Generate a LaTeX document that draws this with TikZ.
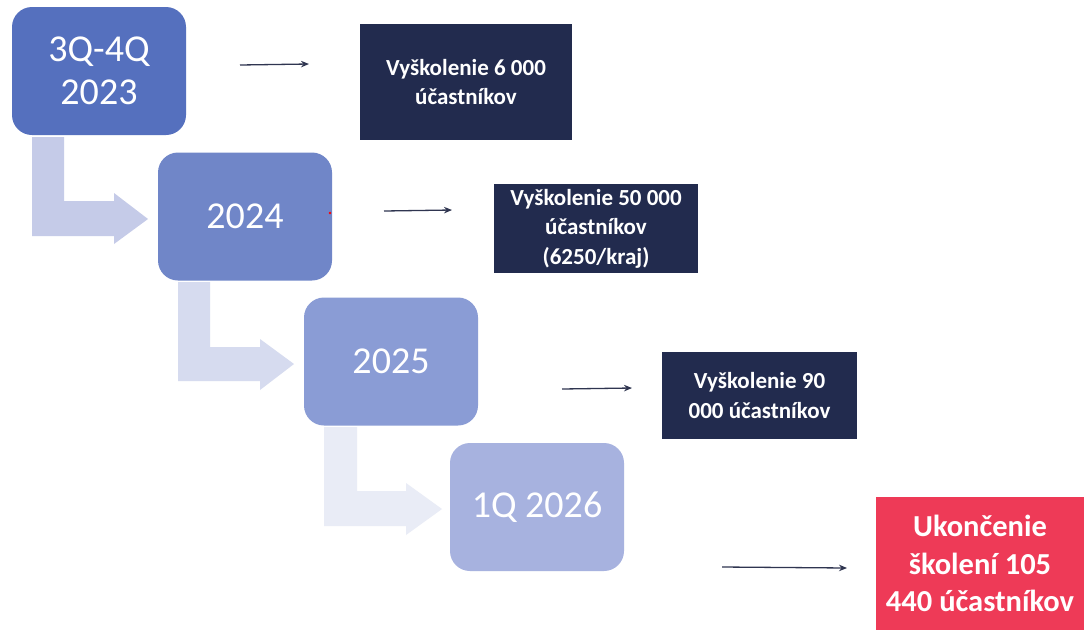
\documentclass[tikz,border=0pt]{standalone}
\usepackage{fontspec}
\setmainfont{Carlito}
\usetikzlibrary{arrows.meta}
\definecolor{yA}{HTML}{5570BE}
\definecolor{yB}{HTML}{7086C8}
\definecolor{yC}{HTML}{8A9CD5}
\definecolor{yD}{HTML}{A7B2DF}
\definecolor{bA}{HTML}{C5CBE8}
\definecolor{bB}{HTML}{D6DBEF}
\definecolor{bC}{HTML}{E9ECF6}
\definecolor{navy}{HTML}{222B4E}
\definecolor{redbox}{HTML}{EE3A57}
\definecolor{arr}{HTML}{2F3550}
\tikzset{
  yearbox/.style={rounded corners=20pt, minimum width=174pt, minimum height=128pt, inner sep=0pt,
    text=white, font=\fontsize{38}{43}\selectfont, align=center},
  infobox/.style={fill=navy, inner sep=0pt, text=white, align=center,
    font=\bfseries\fontsize{23}{29.5}\selectfont},
  endbox/.style={fill=redbox, inner sep=0pt, text=white, align=center,
    font=\bfseries\fontsize{30.5}{37.5}\selectfont},
  smallarrow/.style={draw=arr, line width=1.3pt, -{Stealth[length=8pt,width=6.5pt]}},
}
\begin{document}
\begin{tikzpicture}[x=1pt,y=-1pt]
\useasboundingbox (0,0) rectangle (1084,630);
\fill[white] (0,0) rectangle (1084,630);
% bent arrows
\fill[bA] (32,137) -- (64,137) -- (64,201) -- (114,201) -- (114,193) -- (148,219) -- (114,244) -- (114,236) -- (32,236) -- cycle;
\fill[bB] (178,282) -- (210,282) -- (210,347) -- (260,347) -- (260,339) -- (294,364) -- (260,390) -- (260,381) -- (178,381) -- cycle;
\fill[bC] (324,427) -- (357,427) -- (357,491) -- (406,491) -- (406,483) -- (442,509) -- (406,535) -- (406,526) -- (324,526) -- cycle;
% year boxes
\node[yearbox, fill=yA] (y1) at (99,71) {3Q-4Q\\2023};
\node[yearbox, fill=yB] (y2) at (245,216.5) {2024};
\node[yearbox, fill=yC] (y3) at (391,361.5) {2025};
\node[yearbox, fill=yD] (y4) at (537,507) {1Q 2026};
\fill[red] (330,213) circle (1.4pt);
% info boxes
\node[infobox, minimum width=212pt, minimum height=116pt] (i1) at (466,82) {Vyškolenie 6 000\\účastníkov};
\node[infobox, minimum width=204pt, minimum height=89pt] (i2) at (596,228.5) {Vyškolenie 50 000\\účastníkov\\(6250/kraj)};
\node[infobox, minimum width=195pt, minimum height=87pt] (i3) at (759.5,395.5) {Vyškolenie 90\\000 účastníkov};
\node[endbox, minimum width=208pt, minimum height=133pt] (i4) at (980,563.5) {Ukončenie\\školení 105\\440 účastníkov};
% small arrows
\coordinate (a1s) at (240,65); \coordinate (a1e) at (309,64);
\coordinate (a2s) at (384,211); \coordinate (a2e) at (452,210);
\coordinate (a3s) at (562,389); \coordinate (a3e) at (632,388);
\coordinate (a4s) at (722,567); \coordinate (a4e) at (847,568);
\draw[smallarrow] (a1s) -- (a1e);
\draw[smallarrow] (a2s) -- (a2e);
\draw[smallarrow] (a3s) -- (a3e);
\draw[smallarrow] (a4s) -- (a4e);
\end{tikzpicture}
\end{document}
